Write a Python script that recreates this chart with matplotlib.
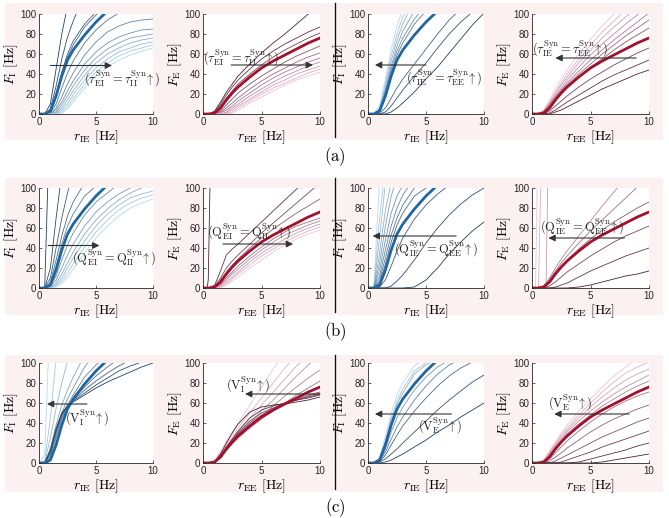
import numpy as np
import matplotlib.pyplot as plt
from matplotlib.patches import Rectangle
from matplotlib.colors import to_rgb

plt.rcParams['mathtext.fontset'] = 'cm'
plt.rcParams['font.family'] = ['Liberation Sans', 'DejaVu Sans']

# shared rate grid [Hz]; each curve lists F at the first len(curve) grid points
r_grid = [0, 0.5, 1, 1.5, 2, 2.5, 3, 4, 5, 6, 7, 8, 9, 10]

# default-parameter curves (thick lines)
thick_I = [0, 0, 3, 18, 38, 54, 64, 79, 92, 103]
thick_E = [0, 0, 1, 6, 14, 21, 27, 37, 46, 53, 59, 65, 71, 76]

# ---- row (a): synaptic time constants ----
a1_curves = [
    [0, 0, 10, 45, 80, 108],
    [0, 0, 5, 28, 55, 77, 93, 120],
    [0, 0, 3, 20, 42, 60, 73, 90, 102],
    [0, 0, 2, 18, 40, 57, 69, 87, 99, 110],
    [0, 0, 1, 10, 26, 41, 53, 71, 84, 94, 101],
    [0, 0, 0, 6, 17, 30, 41, 59, 72, 82, 88, 92, 94, 95],
    [0, 0, 0, 4, 12, 23, 33, 50, 62, 71, 77, 81, 84, 85],
    [0, 0, 0, 2, 9, 18, 28, 44, 56, 65, 71, 76, 78, 80],
    [0, 0, 0, 1, 6, 14, 23, 39, 51, 60, 66, 71, 74, 76],
    [0, 0, 0, 0, 4, 10, 19, 34, 46, 55, 62, 66, 70, 72],
    [0, 0, 0, 0, 2, 7, 15, 30, 42, 51, 58, 63, 66, 69],
    [0, 0, 0, 0, 1, 5, 12, 26, 38, 47, 54, 59, 63, 66],
]
a2_curves = [
    [0, 0, 3, 12, 22, 30, 38, 50, 61, 71, 80, 90, 100, 110],
    [0, 0, 2, 10, 19, 27, 34, 45, 55, 63, 70, 76, 82, 87],
    [0, 0, 1, 8, 16, 23, 30, 40, 49, 57, 64, 70, 76, 81],
    [0, 0, 0, 3, 9, 15, 21, 30, 38, 45, 52, 58, 63, 68],
    [0, 0, 0, 2, 6, 11, 16, 25, 33, 40, 46, 52, 57, 61],
    [0, 0, 0, 1, 4, 8, 13, 21, 29, 36, 42, 47, 52, 56],
    [0, 0, 0, 0, 2, 6, 10, 18, 25, 32, 38, 43, 48, 52],
    [0, 0, 0, 0, 1, 4, 8, 15, 22, 29, 34, 40, 44, 48],
    [0, 0, 0, 0, 0, 2, 6, 13, 20, 26, 31, 36, 41, 45],
    [0, 0, 0, 0, 0, 1, 4, 11, 17, 23, 29, 34, 38, 42],
]
a3_curves = [
    [0, 0, 8, 35, 65, 88, 105],
    [0, 0, 6, 30, 58, 80, 97, 120],
    [0, 0, 5, 27, 53, 74, 90, 115],
    [0, 0, 4, 24, 48, 68, 83, 103],
    [0, 0, 4, 22, 45, 63, 76, 95, 110],
    [0, 0, 3, 20, 42, 59, 71, 90, 103],
    [0, 0, 1, 6, 16, 26, 35, 50, 65, 80, 94, 105],
    [0, 0, 0, 2, 8, 16, 24, 38, 51, 66, 80, 92, 102],
    [0, 0, 0, 0, 2, 6, 11, 22, 35, 47, 61, 75, 89, 101],
]
a4_curves = [
    [0, 0, 4, 14, 25, 35, 44, 60, 75, 88, 100],
    [0, 0, 3, 12, 22, 31, 40, 55, 69, 82, 93, 104],
    [0, 0, 3, 11, 20, 29, 37, 51, 64, 76, 87, 97, 107],
    [0, 0, 2, 10, 18, 26, 34, 47, 59, 70, 80, 90, 99, 108],
    [0, 0, 2, 9, 17, 24, 31, 43, 54, 64, 74, 83, 92, 101],
    [0, 0, 2, 8, 16, 23, 29, 40, 50, 60, 69, 78, 86, 94],
    [0, 0, 1, 7, 15, 21, 27, 37, 47, 55, 64, 72, 79, 86],
    [0, 0, 0, 3, 8, 13, 18, 27, 35, 42, 49, 55, 61, 66],
    [0, 0, 0, 1, 4, 8, 12, 19, 26, 33, 39, 44, 49, 54],
    [0, 0, 0, 0, 2, 4, 7, 13, 19, 25, 30, 35, 40, 44],
]

# ---- row (b): synaptic efficacies ----
b1_curves = [
    [0, 0, 190],
    [0, 0, 20, 70, 115],
    [0, 0, 10, 40, 70, 95, 115],
    [0, 0, 6, 28, 52, 72, 86, 105],
    [0, 0, 4, 22, 44, 62, 74, 92, 102],
    [0, 0, 2, 12, 28, 43, 55, 73, 86, 95, 104],
    [0, 0, 1, 8, 20, 33, 44, 62, 76, 86, 94, 100],
    [0, 0, 0, 5, 14, 25, 36, 54, 68, 79, 88, 95, 100],
    [0, 0, 0, 3, 10, 20, 30, 47, 62, 74, 83, 90, 94, 97],
    [0, 0, 0, 2, 7, 15, 24, 41, 56, 68, 78, 85, 90, 93],
    [0, 0, 0, 1, 5, 11, 19, 35, 50, 62, 72, 80, 85, 89],
]
b2_steep_r = [[0.35, 0.45, 0.6]]
b2_steep_F = [[0, 8, 105]]
b2_curves = [
    [0, 0, 3, 17, 33, 39, 44, 55, 66, 77, 88, 99, 110],
    [0, 0, 2, 10, 20, 27, 33, 44, 55, 65, 75, 85, 95, 105],
    [0, 0, 1, 8, 16, 23, 29, 40, 50, 59, 67, 75, 82, 89],
    [0, 0, 0, 4, 10, 16, 22, 32, 41, 49, 56, 62, 66, 70],
    [0, 0, 0, 3, 8, 14, 19, 29, 38, 46, 53, 58, 63, 67],
    [0, 0, 0, 2, 6, 11, 16, 26, 35, 42, 49, 55, 60, 64],
    [0, 0, 0, 1, 4, 9, 14, 23, 32, 39, 46, 52, 57, 61],
    [0, 0, 0, 0, 3, 7, 11, 20, 28, 36, 43, 49, 54, 58],
]
b3_curves = [
    [0, 0, 110],
    [0, 0, 70, 120],
    [0, 0, 50, 105],
    [0, 0, 35, 78, 105],
    [0, 0, 25, 62, 92, 110],
    [0, 0, 18, 48, 75, 92, 103],
    [0, 0, 12, 38, 62, 80, 93, 110],
    [0, 0, 8, 30, 53, 70, 83, 100],
    [0, 0, 5, 24, 46, 63, 75, 92, 100],
    [0, 0, 1, 8, 22, 37, 50, 69, 83, 94, 103],
    [0, 0, 0, 0, 2, 7, 13, 28, 45, 60, 73, 84, 93, 100],
    [0, 0, 0, 0, 0, 0, 0, 1, 8, 20, 34, 46, 57, 66],
]
b4_steep_r = [[0.3, 0.45], [0.55, 0.75], [1.2, 1.35]]
b4_steep_F = [[0, 105], [0, 105], [0, 105]]
b4_curves = [
    [0, 0, 2, 10, 20, 29, 37, 52, 67, 82, 96, 110],
    [0, 0, 2, 9, 17, 25, 32, 45, 57, 68, 79, 90, 101],
    [0, 0, 1, 7, 15, 22, 28, 39, 49, 58, 66, 73, 80, 86],
    [0, 0, 0, 2, 6, 11, 16, 24, 32, 39, 46, 52, 57, 62],
    [0, 0, 0, 0, 1, 3, 5, 11, 17, 22, 27, 32, 36, 40],
    [0, 0, 0, 0, 0, 0, 0, 1, 3, 6, 9, 12, 14, 17],
]

# ---- row (c): synaptic reversal potentials ----
c1_curves = [
    [0, 8, 160],
    [0, 2, 45, 105],
    [0, 1, 25, 55, 80, 102],
    [0, 0, 15, 38, 58, 73, 86, 108],
    [0, 0, 10, 31, 50, 64, 75, 96, 110],
    [0, 0, 6, 25, 44, 58, 68, 86, 98, 108],
    [0, 0, 8, 28, 46, 57, 64, 76, 87, 96, 104],
    [0, 0, 10, 31, 48, 57, 63, 73, 82, 90, 97, 103],
    [0, 0, 12, 33, 49, 57, 62, 70, 78, 85, 92, 97, 101],
    [0, 0, 13, 35, 50, 57, 61, 68, 75, 81, 86, 91, 96, 100],
]
c2_curves = [
    [0, 0, 3, 12, 22, 31, 40, 58, 76, 94, 110],
    [0, 0, 2, 10, 19, 27, 35, 50, 65, 80, 95, 108],
    [0, 0, 2, 9, 17, 24, 31, 45, 58, 71, 84, 97, 108],
    [0, 0, 1, 8, 15, 22, 28, 40, 52, 63, 75, 87, 98, 108],
    [0, 0, 1, 7, 14, 20, 26, 37, 47, 57, 67, 76, 85, 93],
    [0, 0, 1, 6, 13, 19, 25, 35, 44, 52, 60, 68, 75, 82],
    [0, 0, 1, 6, 14, 21, 28, 38, 47, 53, 59, 64, 68, 71],
    [0, 0, 1, 6, 15, 22, 29, 40, 48, 54, 59, 63, 67, 70],
    [0, 0, 1, 7, 15, 23, 30, 42, 50, 55, 60, 63, 66, 69],
    [0, 0, 1, 7, 16, 24, 32, 45, 53, 57, 60, 63, 65, 68],
    [0, 0, 1, 9, 20, 30, 39, 51, 56, 58, 59, 61, 63, 66],
]
c3_curves = [
    [0, 0, 5, 27, 50, 68, 80, 97, 105],
    [0, 0, 4, 23, 45, 62, 74, 92, 100],
    [0, 0, 4, 21, 42, 59, 70, 89, 98, 104],
    [0, 0, 2, 14, 31, 45, 56, 73, 86, 96, 103],
    [0, 0, 2, 11, 24, 36, 46, 63, 77, 89, 98, 104],
    [0, 0, 1, 8, 18, 28, 37, 52, 65, 77, 87, 95, 101],
    [0, 0, 1, 4, 9, 14, 20, 31, 42, 53, 63, 72, 81, 88],
    [0, 0, 0, 1, 3, 6, 9, 16, 23, 31, 38, 46, 53, 60],
]
c4_curves = [
    [0, 0, 3, 12, 21, 30, 38, 52, 64, 76, 87, 96, 105],
    [0, 0, 2, 11, 20, 28, 35, 48, 60, 71, 81, 90, 96, 101],
    [0, 0, 2, 10, 18, 26, 33, 45, 56, 66, 75, 83, 89, 94],
    [0, 0, 2, 9, 17, 24, 31, 42, 52, 61, 69, 76, 82, 88],
    [0, 0, 1, 8, 16, 22, 29, 39, 48, 57, 64, 71, 77, 82],
    [0, 0, 0, 4, 10, 16, 22, 32, 41, 49, 56, 62, 67, 71],
    [0, 0, 0, 2, 6, 10, 15, 23, 31, 38, 44, 49, 54, 58],
    [0, 0, 0, 0, 2, 5, 8, 14, 20, 26, 31, 36, 41, 45],
    [0, 0, 0, 0, 0, 1, 3, 7, 11, 16, 20, 24, 28, 32],
    [0, 0, 0, 0, 0, 0, 0, 1, 4, 7, 10, 13, 17, 20],
    [0, 0, 0, 0, 0, 0, 0, 0, 0, 1, 3, 5, 7, 9],
]

labels_tau = [r'$(\tau^{\rm Syn}_{\rm EI} = \tau^{\rm Syn}_{\rm II}\!\uparrow)$',
              r'$(\tau^{\rm Syn}_{\rm IE} = \tau^{\rm Syn}_{\rm EE}\!\uparrow)$']
labels_Q = [r'$({\rm Q}^{\rm Syn}_{\rm EI} = {\rm Q}^{\rm Syn}_{\rm II}\!\uparrow)$',
            r'$({\rm Q}^{\rm Syn}_{\rm IE} = {\rm Q}^{\rm Syn}_{\rm EE}\!\uparrow)$']
labels_V = [r'$({\rm V}^{\rm Syn}_{\rm I}\!\uparrow)$',
            r'$({\rm V}^{\rm Syn}_{\rm E}\!\uparrow)$']

# colours
blue_dark, blue_light, blue_thick = '#203f5e', '#b4d9ef', '#1f66a3'
red_dark, red_light, red_thick = '#4d2036', '#f3c2d5', '#a5112d'
pink_bg = '#faf1f0'

# row, col, kind, curves, steep(r,F), dark first?, label, label xy, arrow from, arrow to
panels = [
    (0, 0, 'I', a1_curves, None, True, labels_tau[0], (7.3, 36), (1.0, 48.5), (6.4, 48.5)),
    (0, 1, 'E', a2_curves, None, True, labels_tau[0], (3.3, 57), (2.4, 49), (9.4, 49)),
    (0, 2, 'I', a3_curves, None, False, labels_tau[1], (6.6, 37), (5.0, 49), (0.6, 49)),
    (0, 3, 'E', a4_curves, None, False, labels_tau[1], (3.3, 66), (8.9, 56), (2.0, 56)),
    (1, 0, 'I', b1_curves, None, True, labels_Q[0], (6.6, 31), (0.8, 42.5), (5.3, 42.5)),
    (1, 1, 'E', b2_curves, (b2_steep_r, b2_steep_F), True, labels_Q[0], (3.9, 57), (1.7, 44), (7.7, 44)),
    (1, 2, 'I', b3_curves, None, False, labels_Q[1], (5.85, 40), (7.6, 52), (0.4, 52)),
    (1, 3, 'E', b4_curves, (b4_steep_r, b4_steep_F), False, labels_Q[1], (4.25, 62), (7.9, 50), (1.4, 50)),
    (2, 0, 'I', c1_curves, None, False, labels_V[0], (4.2, 46), (4.2, 59), (0.7, 59)),
    (2, 1, 'E', c2_curves, None, False, labels_V[0], (3.9, 79), (10.0, 69), (3.6, 69)),
    (2, 2, 'I', c3_curves, None, False, labels_V[1], (6.2, 38), (7.2, 49), (0.6, 49)),
    (2, 3, 'E', c4_curves, None, False, labels_V[1], (3.3, 61), (8.3, 49), (1.9, 49)),
]

W, H = 669, 518
fig = plt.figure(figsize=(W / 100, H / 100), dpi=100)

col_x = [(39, 153), (203, 320), (368, 484), (532, 649)]
row_y = [(14, 114), (188, 288), (363, 463)]
bg_rows = [(3, 140), (178, 315), (355, 492)]
bg_cols = [(5, 333), (337, 663)]

for (y0, y1) in bg_rows:
    for (x0, x1) in bg_cols:
        fig.patches.append(Rectangle((x0 / W, 1 - y1 / H), (x1 - x0) / W, (y1 - y0) / H,
                                     transform=fig.transFigure, facecolor=pink_bg,
                                     edgecolor='none', zorder=-5))
    fig.add_artist(plt.Line2D([335 / W, 335 / W], [1 - (y1 - 3) / H, 1 - y0 / H],
                              transform=fig.transFigure, color='#111111', lw=1.0))

for k, lab in enumerate(['(a)', '(b)', '(c)']):
    fig.text(335 / W, 1 - [157, 332, 508][k] / H, r'$\mathrm{' + lab + '}$',
             ha='center', va='center', fontsize=12)


def shade(c0, c1, t):
    a, b = np.array(to_rgb(c0)), np.array(to_rgb(c1))
    return tuple(a + (b - a) * t)


for row, col, kind, curves, steep, dark_first, label, lab_xy, a_from, a_to in panels:
    x0, x1 = col_x[col]
    y0, y1 = row_y[row]
    ax = fig.add_axes([x0 / W, 1 - y1 / H, (x1 - x0) / W, (y1 - y0) / H])
    ax.set_facecolor('white')

    if kind == 'I':
        dark, light, thick_c, thick = blue_dark, blue_light, blue_thick, thick_I
        ax.set_xlabel(r'$r_{\rm IE}\ [\rm Hz]$', fontsize=10, labelpad=1)
        ax.set_ylabel(r'$F_{\rm I}\ [\rm Hz]$', fontsize=10, labelpad=0)
    else:
        dark, light, thick_c, thick = red_dark, red_light, red_thick, thick_E
        ax.set_xlabel(r'$r_{\rm EE}\ [\rm Hz]$', fontsize=10, labelpad=1)
        ax.set_ylabel(r'$F_{\rm E}\ [\rm Hz]$', fontsize=10, labelpad=0)

    c_start, c_end = (dark, light) if dark_first else (light, dark)
    n_steep = len(steep[0]) if steep else 0
    n = n_steep + len(curves)
    k = 0
    if steep:
        for rs, Fs in zip(*steep):
            ax.plot(rs, Fs, color=shade(c_start, c_end, k / (n - 1)), lw=0.6)
            k += 1
    for cur in curves:
        ax.plot(r_grid[:len(cur)], cur, color=shade(c_start, c_end, k / (n - 1)), lw=0.6)
        k += 1
    ax.plot(r_grid[:len(thick)], thick, color=thick_c, lw=2.0)

    ax.annotate('', xy=(a_to[0], a_to[1]), xytext=(a_from[0], a_from[1]),
                arrowprops=dict(arrowstyle='-|>', color='#333333', lw=0.8,
                                mutation_scale=10, shrinkA=0, shrinkB=0))
    ax.text(lab_xy[0], lab_xy[1], label, ha='center', va='center', fontsize=9,
            color='#222222')

    ax.set_xlim(0, 10)
    ax.set_ylim(0, 100)
    ax.set_xticks([0, 5, 10])
    ax.set_yticks([0, 20, 40, 60, 80, 100])
    ax.tick_params(direction='in', length=2.5, width=0.5, labelsize=7,
                   colors='#262626', pad=2)
    for s in ['top', 'right']:
        ax.spines[s].set_visible(False)
    for s in ['left', 'bottom']:
        ax.spines[s].set_linewidth(0.6)
        ax.spines[s].set_color('#262626')

fig.savefig('out.png', dpi=100)
